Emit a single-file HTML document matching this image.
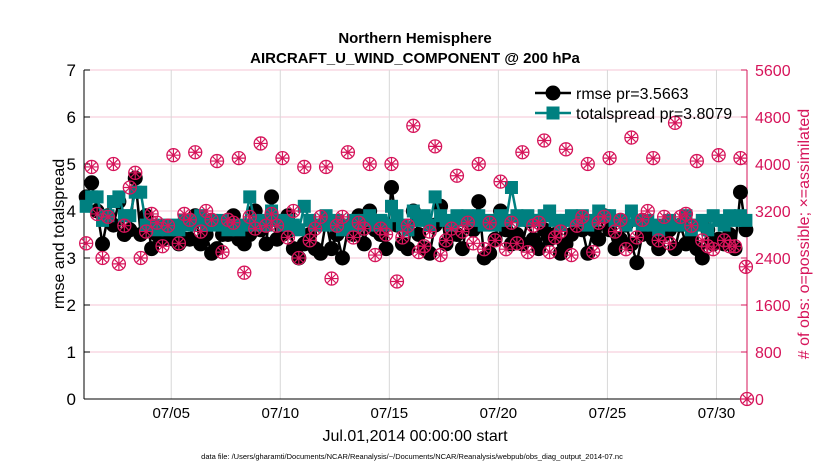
<!DOCTYPE html>
<html><head><meta charset="utf-8"><style>
body{margin:0;background:#fff;font-family:"Liberation Sans",sans-serif}
svg text{font-family:"Liberation Sans",sans-serif}
</style></head><body>
<svg id="c" width="830" height="470" xmlns="http://www.w3.org/2000/svg"></svg>
<script>
const rmse=[4.3,4.6,4.0,3.3, 3.9,3.7,4.2,3.5, 3.6,4.7,3.5,3.9, 3.2,3.5,3.4,3.6, 3.4,3.3,3.4,3.4, 3.9,3.3,3.5,3.1, 3.2,3.5,3.5,3.9, 3.4,3.3,3.5,4.0, 3.6,3.3,4.3,3.4, 3.5,3.9,3.2,3.0, 3.3,3.5,3.2,3.1, 3.8,3.2,3.5,3.0, 3.6,3.5,3.9,3.3, 4.0,3.6,3.5,3.2, 4.5,3.7,3.3,3.2, 4.0,3.5,3.2,3.1, 3.7,4.1,3.3,3.5, 3.5,3.2,3.8,3.6, 4.2,3.0,3.1,3.4, 4.0,3.6,3.3,3.5, 3.3,3.8,3.4,3.2, 3.6,3.4,3.5,3.1, 3.3,3.5,3.8,3.6, 3.1,3.6,3.4,3.9, 3.6,3.2,3.4,3.7, 3.3,2.9,3.5,3.6, 3.4,3.2,3.5,3.6, 3.2,3.7,3.3,3.4, 3.2,3.0,3.6,3.3, 3.4,3.3,3.5,3.2, 4.4,3.6];
const spread=[4.1,4.3,4.3,3.8, 3.9,4.2,4.3,3.9, 3.9,4.4,4.4,3.7, 3.7,3.6,3.7,3.6, 3.7,3.6,3.8,3.7, 3.8,3.9,3.7,3.8, 3.7,3.8,3.6,3.7, 3.6,3.7,4.3,3.7, 3.8,3.7,4.0,3.8, 3.7,3.8,3.7,3.6, 4.1,3.8,3.7,3.7, 3.9,3.7,3.8,3.6, 3.7,3.8,3.7,3.8, 3.9,3.7,3.8,3.7, 4.1,3.9,3.7,3.6, 4.0,3.8,3.9,3.7, 4.3,3.9,3.8,3.7, 3.9,3.8,3.9,3.8, 3.9,3.7,3.8,3.7, 3.9,3.8,4.5,3.9, 3.8,3.9,3.8,3.8, 3.9,4.0,3.8,3.7, 3.8,3.9,3.8,3.9, 3.7,3.8,4.0,3.9, 3.9,3.8,3.8,3.7, 4.0,3.8,3.7,3.8, 3.7,3.6,3.7,3.8, 3.7,3.7,3.9,3.6, 3.7,3.8,3.6,3.9, 3.8,3.7,3.9,3.8, 3.9,3.8];
const obs=[2650,3950,3150,2400, 3100,4000,2300,2950, 3600,3850,2400,2850, 3150,3000,2600,2950, 4150,2650,3150,3050, 4200,2850,3200,3050, 4050,2500,3050,3000, 4100,2150,3100,2900, 4350,2950,3150,2950, 4100,2750,3200,2400, 3950,2700,2900,3100, 3950,2050,2950,3100, 4200,2750,3000,2900, 4000,2450,2900,2800, 4000,2000,2750,2950, 4650,2500,2600,2850, 4300,2450,2700,2900, 3800,2850,3000,2650, 4000,2550,3000,2700, 3700,2550,3000,2650, 4200,2500,2950,3000, 4400,2500,2750,2850, 4250,2450,2950,3100, 4000,2500,3000,3100, 4100,2850,3050,2550, 4450,2750,3050,3200, 4100,2700,3100,2650, 4700,3100,3150,2950, 4050,2700,2600,2550, 4150,2700,2600,2600, 4100,2250];
const tickDays=[4,9,14,19,24,29];
const tickLabels=["07/05","07/10","07/15","07/20","07/25","07/30"];
const leftTicks=[0,1,2,3,4,5,6,7];
const rightTicks=[0,800,1600,2400,3200,4000,4800,5600];
const L=84,R=747,T=70,B=399,dayMax=30.4;
const X=d=>L+(R-L)*d/dayMax, YL=v=>B-(B-T)*v/7, YR=n=>B-(B-T)*n/5600;
const tOf=i=>0.1+i*0.25;
const svg=document.getElementById('c');const NS='http://www.w3.org/2000/svg';
function el(tag,a,txt){const e=document.createElementNS(NS,tag);for(const k in a)e.setAttribute(k,a[k]);if(txt!==undefined)e.textContent=txt;svg.appendChild(e);return e;}
leftTicks.forEach(v=>{const g=el('line',{x1:L,x2:R,y1:YL(v),y2:YL(v),stroke:'#f4c6d6','stroke-width':1});

});
tickDays.forEach((d,i)=>{const g=el('line',{x1:X(d),x2:X(d),y1:T,y2:B,stroke:'#d8d8d8','stroke-width':1});


const t=el('text',{x:X(d),y:418,'text-anchor':'middle','font-size':15},tickLabels[i]);

});
let a=el('line',{x1:L,x2:L,y1:T,y2:B,stroke:'#000'});
a=el('line',{x1:L,x2:R,y1:B,y2:B,stroke:'#000'});
a=el('line',{x1:R,x2:R,y1:T,y2:B,stroke:'#d6145a'});
leftTicks.forEach(v=>{el('line',{x1:L,x2:L+6,y1:YL(v),y2:YL(v),stroke:'#000'});
const t=el('text',{x:L-8,y:YL(v)+6,'text-anchor':'end','font-size':17},String(v));

});
rightTicks.forEach(n=>{el('line',{x1:R-6,x2:R,y1:YR(n),y2:YR(n),stroke:'#d6145a'});
const t=el('text',{x:R+8,y:YR(n)+6,'font-size':16,fill:'#d6145a'},String(n));

});
function obsMark(x,y){const g=document.createElementNS(NS,'g');svg.appendChild(g);
g.innerHTML=`<circle cx="${x}" cy="${y}" r="6.5" fill="none" stroke="#d6145a" stroke-width="1.3"/><path d="M${x-6} ${y}H${x+6}M${x} ${y-6}V${y+6}M${x-4.2} ${y-4.2}L${x+4.2} ${y+4.2}M${x-4.2} ${y+4.2}L${x+4.2} ${y-4.2}" stroke="#d6145a" stroke-width="1.2"/>`;return g;}
let p=el('polyline',{points:rmse.map((v,i)=>X(tOf(i))+','+YL(v)).join(' '),fill:'none',stroke:'#000','stroke-width':2.5});

rmse.forEach((v,i)=>{const c=el('circle',{cx:X(tOf(i)),cy:YL(v),r:7.5,fill:'#000'});

});
p=el('polyline',{points:spread.map((v,i)=>X(tOf(i))+','+YL(v)).join(' '),fill:'none',stroke:'#008080','stroke-width':2.5});

spread.forEach((v,i)=>{const c=el('rect',{x:X(tOf(i))-6.5,y:YL(v)-6.5,width:13,height:13,fill:'#008080'});

});
obs.forEach((n,i)=>{const g=obsMark(X(tOf(i)),YR(n));

});
const last=obsMark(R,YR(0));


</script>
<svg style="position:absolute;left:0;top:0" width="830" height="470" xmlns="http://www.w3.org/2000/svg">
<text x="415" y="43" text-anchor="middle" font-size="15" font-weight="bold">Northern Hemisphere</text>
<text x="415" y="63" text-anchor="middle" font-size="15" font-weight="bold">AIRCRAFT_U_WIND_COMPONENT @ 200 hPa</text>
<g>
<line x1="535" x2="571" y1="93" y2="93" stroke="#000" stroke-width="2.5"/><circle cx="553" cy="93" r="7.5" fill="#000"/>
<text x="576" y="99" font-size="16">rmse pr=3.5663</text>
<line x1="535" x2="571" y1="113" y2="113" stroke="#008080" stroke-width="2.5"/><rect x="546.5" y="106.5" width="13" height="13" fill="#008080"/>
<text x="576" y="119" font-size="16">totalspread pr=3.8079</text>
</g>
<text transform="translate(64,234) rotate(-90)" text-anchor="middle" font-size="16">rmse and totalspread</text>
<text transform="translate(809,234) rotate(-90)" text-anchor="middle" font-size="16" fill="#d6145a"># of obs: o=possible; ×=assimilated</text>
<text x="415" y="441" text-anchor="middle" font-size="16">Jul.01,2014 00:00:00 start</text>
<text x="412" y="459" text-anchor="middle" font-size="7.5">data file: /Users/gharamti/Documents/NCAR/Reanalysis/~/Documents/NCAR/Reanalysis/webpub/obs_diag_output_2014-07.nc</text>
</svg>
</body></html>
